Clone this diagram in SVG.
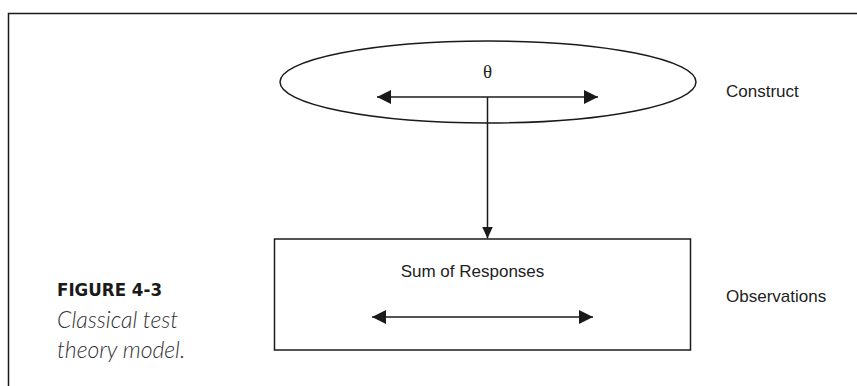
<svg xmlns="http://www.w3.org/2000/svg" width="857" height="386" viewBox="0 0 857 386">
<style>
.ln{stroke:#1a1a1a;stroke-width:1.5;fill:none}
.lbl{font-family:"Liberation Sans",Arial,sans-serif;font-size:17px;fill:#222}
.fig{font-family:"DejaVu Sans Condensed","DejaVu Sans",sans-serif;font-stretch:condensed;font-weight:bold;font-size:18px;fill:#1a1a1a}
.cap{font-family:"Lato","Liberation Sans",sans-serif;font-style:italic;font-weight:300;font-size:23px;fill:#333}
</style>
<defs>
<marker id="ah" viewBox="0 0 14 14" refX="14" refY="7" markerWidth="14" markerHeight="14" markerUnits="userSpaceOnUse" orient="auto-start-reverse">
<path d="M0,0 L14,7 L0,14 Z" fill="#1a1a1a"/>
</marker>
<marker id="ahv" viewBox="0 0 12 12" refX="12" refY="6" markerWidth="12" markerHeight="12" markerUnits="userSpaceOnUse" orient="auto">
<path d="M0,0.5 L12,6 L0,11.5 Z" fill="#1a1a1a"/>
</marker>
</defs>
<g id="frame">
<polyline class="ln" points="8.5,386 8.5,13.5 857,13.5"/>
</g>
<g id="construct">
<ellipse class="ln" cx="488" cy="82" rx="208" ry="41"/>
<text x="487.5" y="78" text-anchor="middle" font-family="Liberation Serif,serif" font-size="19" fill="#222">θ</text>
<line class="ln" x1="377" y1="97" x2="598" y2="97" marker-start="url(#ah)" marker-end="url(#ah)"/>
</g>
<g id="observations">
<rect class="ln" x="274.5" y="239" width="416" height="111"/>
<text class="lbl" x="472.5" y="277" text-anchor="middle">Sum of Responses</text>
<line class="ln" x1="372" y1="317" x2="593" y2="317" marker-start="url(#ah)" marker-end="url(#ah)"/>
</g>
<g id="connectors">
<line class="ln" x1="487.5" y1="97" x2="487.5" y2="238.5" marker-end="url(#ahv)"/>
</g>
<g id="labels">
<text class="lbl" x="726" y="97">Construct</text>
<text class="lbl" x="726" y="302">Observations</text>
</g>
<g id="caption">
<text class="fig" x="57" y="296" textLength="105" lengthAdjust="spacingAndGlyphs">FIGURE 4-3</text>
<text class="cap" x="57" y="328">Classical test</text>
<text class="cap" x="57" y="358">theory model.</text>
</g>
</svg>
